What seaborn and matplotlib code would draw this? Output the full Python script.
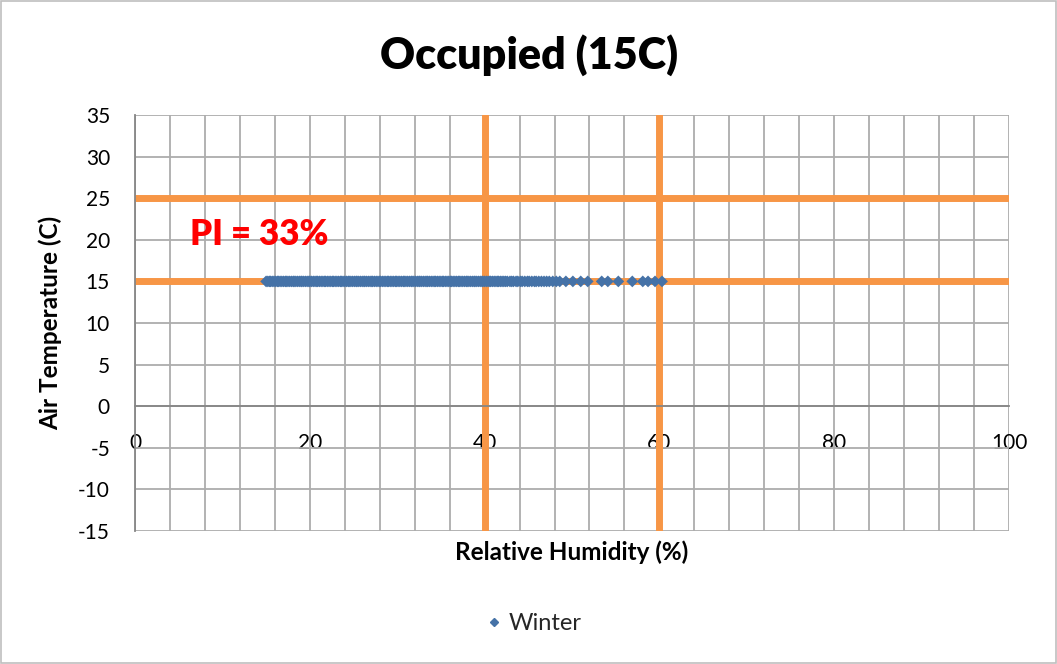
import matplotlib
matplotlib.use("Agg")
import matplotlib.pyplot as plt
import seaborn as sns
import pandas as pd
from matplotlib.ticker import MultipleLocator
from matplotlib.patches import Rectangle

# ---- data ----
rh_winter = [15.0, 15.2, 15.4, 15.5, 15.7, 15.9, 16.1, 16.3, 16.4, 16.6, 16.8, 17.0,
             17.2, 17.3, 17.5, 17.7, 17.9, 18.1, 18.2, 18.4, 18.6, 18.8, 19.0, 19.1,
             19.3, 19.5, 19.7, 19.9, 20.0, 20.2, 20.4, 20.6, 20.8, 20.9, 21.1, 21.3,
             21.5, 21.7, 21.8, 22.0, 22.2, 22.4, 22.6, 22.7, 22.9, 23.1, 23.3, 23.5,
             23.6, 23.8, 24.0, 24.2, 24.4, 24.5, 24.7, 24.9, 25.1, 25.3, 25.4, 25.6,
             25.8, 26.0, 26.2, 26.3, 26.5, 26.7, 26.9, 27.1, 27.2, 27.4, 27.6, 27.8,
             28.0, 28.1, 28.3, 28.5, 28.7, 28.9, 29.0, 29.2, 29.4, 29.6, 29.8, 29.9,
             30.1, 30.3, 30.5, 30.7, 30.8, 31.0, 31.2, 31.4, 31.6, 31.7, 31.9, 32.1,
             32.3, 32.5, 32.6, 32.8, 33.0, 33.2, 33.4, 33.5, 33.7, 33.9, 34.1, 34.3,
             34.4, 34.6, 34.8, 35.0, 35.2, 35.3, 35.5, 35.7, 35.9, 36.1, 36.2, 36.4,
             36.6, 36.8, 37.0, 37.1, 37.3, 37.5, 37.7, 37.9, 38.0, 38.2, 38.4, 38.6,
             38.8, 38.9, 39.1, 39.3, 39.5, 39.7, 39.8, 40.0, 40.2, 40.4, 40.6, 40.7,
             40.9, 41.1, 41.3, 41.5, 41.6, 41.8, 42.0, 42.2, 42.4, 42.6, 42.9, 43.1,
             43.3, 43.6, 43.8, 44.1, 44.3, 44.6, 44.9, 45.1, 45.4, 45.7, 45.9, 46.2,
             46.5, 46.8, 47.1, 47.4, 47.8, 48.2, 48.6, 49.3, 50.1, 51.0, 51.8, 53.4,
             54.1, 55.3, 56.9, 58.1, 58.7, 59.5, 60.3]
temp_winter = [15.0] * len(rh_winter)
series_name = "Winter"
h_limits = [15, 25]
v_limits = [40, 60]
x_ticks = [0, 20, 40, 60, 80, 100]
y_ticks = [-15, -10, -5, 0, 5, 10, 15, 20, 25, 30, 35]
title = "Occupied (15C)"
annotation = "PI = 33%"

df = pd.DataFrame({"RH": rh_winter, "T": temp_winter, "Season": series_name})

sns.set_style("white")
plt.rcParams["font.family"] = ["Lato", "DejaVu Sans"]

fig = plt.figure(figsize=(10.57, 6.64), dpi=100)
ax = fig.add_axes([135/1057, 1 - 531/664, (1009-135)/1057, (531-115)/664])

grid_c = "#ADADAD"
ax.set_xlim(0, 100)
ax.set_ylim(-15, 35)
ax.xaxis.set_major_locator(MultipleLocator(20))
ax.xaxis.set_minor_locator(MultipleLocator(4))
ax.set_yticks(y_ticks)
ax.grid(True, which="both", axis="x", color=grid_c, lw=1.3, zorder=0)
ax.grid(True, which="major", axis="y", color=grid_c, lw=1.3, zorder=0)
ax.set_axisbelow(True)

orange = "#F79646"
for h in h_limits:
    ax.axhline(h, color=orange, lw=5, zorder=2)
for v in v_limits:
    ax.axvline(v, color=orange, lw=5, zorder=2)

sns.scatterplot(data=df, x="RH", y="T", hue="Season", palette=["#4572A7"],
                marker="D", s=36, linewidth=0, ax=ax, zorder=3, legend=False)

for s in ["top", "right"]:
    ax.spines[s].set_visible(False)
ax.spines["bottom"].set_position(("data", 0))
ax.spines["bottom"].set_color("#868686")
ax.spines["left"].set_color("#868686")
ax.spines["bottom"].set_linewidth(1.3)
ax.spines["left"].set_linewidth(1.3)

ax.set_xticks(x_ticks)
ax.tick_params(axis="x", which="major", direction="out", length=5, width=1.3,
               color="#868686", labelsize=15, pad=14, labelcolor="black")
ax.tick_params(axis="x", which="minor", length=0)
ax.tick_params(axis="y", direction="out", length=6, width=1.3, color="#868686",
               labelsize=15, pad=12, labelcolor="black")
ax.set_yticklabels([str(v) for v in y_ticks])

ax.set_xlabel("")
ax.set_ylabel("")
fig.text(572/1057, 1 - 552/664, "Relative Humidity (%)", ha="center", va="center",
         fontsize=17.5, fontweight="bold", color="black")
fig.text(50/1057, 1 - 323/664, "Air Temperature (C)", ha="center", va="center",
         rotation=90, fontsize=17.5, fontweight="bold", color="black")
fig.text(529/1057, 1 - 55/664, title, ha="center", va="center",
         fontsize=31, fontweight="heavy", color="black")
ax.text(6.3, 20.6, annotation, color="#FF0000", fontsize=25, fontweight="heavy",
        ha="left", va="center")

# legend
handle = plt.Line2D([], [], marker="D", color="#4572A7", linestyle="none", markersize=4)
fig.legend([handle], [series_name], loc="center", bbox_to_anchor=(533/1057, 1 - 624/664),
           frameon=False, fontsize=17, handletextpad=0.2, handlelength=0.8)

fig.patches.append(Rectangle((0.001, 0.001), 0.998, 0.997, transform=fig.transFigure,
                             fill=False, edgecolor="#BFBFBF", lw=1.2))

fig.savefig("out.png", dpi=100)
